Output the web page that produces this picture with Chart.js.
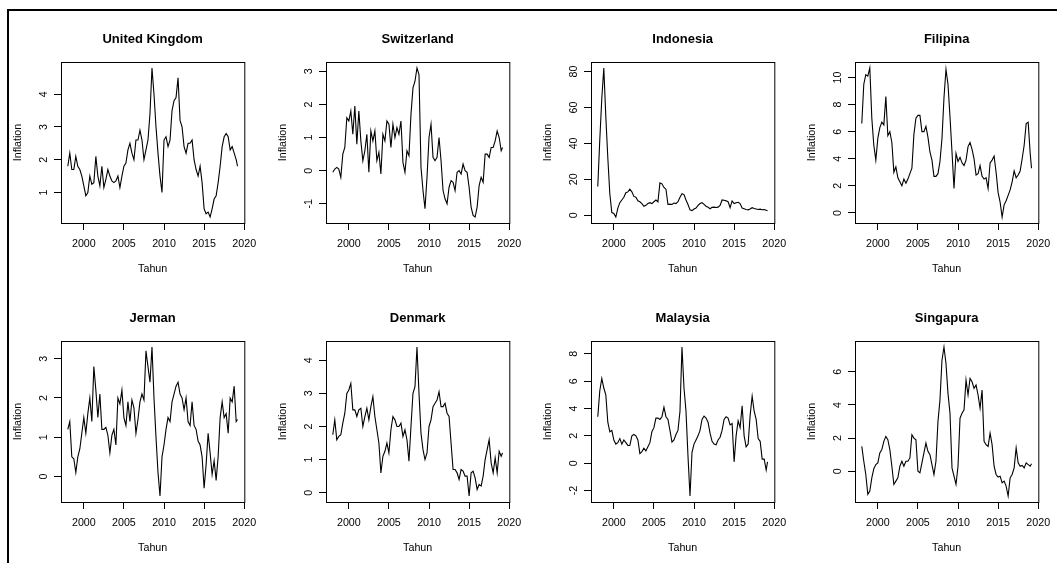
<!DOCTYPE html>
<html>
<head>
<meta charset="utf-8">
<script src="https://cdn.jsdelivr.net/npm/chart.js@4.4.1/dist/chart.umd.min.js"></script>
<style>
    body { margin: 0; background: #fff; width: 1057px; height: 563px; overflow: hidden; position: relative; }
    .frame { position: absolute; left: 7px; top: 9px; width: 1100px; height: 600px; border-left: 2px solid #000; border-top: 2px solid #000; }
    canvas { position: absolute; }
</style>
</head>
<body>
<div class="frame"></div>
<div id="panels"></div>
<script>
// kuartalan Jan 1998 .. Jan 2019, titik terakhir Maret 2019
const startYear = 1998;
const lastTime = 2019 + 2 / 12;
const years = [];
for (let k = 0; k <= 84; k++) years.push(startYear + k / 4);
years.push(lastTime);

const countries = ['United Kingdom', 'Switzerland', 'Indonesia', 'Filipina', 'Jerman', 'Denmark', 'Malaysia', 'Singapura'];

const ukInflation = [
    1.8, 2.2, 1.7, 1.7, 2.1, 1.8, 1.7, 1.5, 1.2, 0.9, 1.0, 1.5, 1.25, 1.3, 2.1, 1.5,
    1.2, 1.8, 1.15, 1.4, 1.7, 1.5, 1.35, 1.3, 1.35, 1.5, 1.15, 1.5, 1.8, 1.9, 2.3, 2.5,
    2.2, 2.0, 2.6, 2.6, 2.9, 2.6, 2.0, 2.3, 2.6, 3.4, 4.8, 4.0, 3.0, 2.2, 1.5, 1.0,
    2.6, 2.7, 2.4, 2.6, 3.5, 3.8, 3.9, 4.5, 3.2, 3.0, 2.4, 2.2, 2.5, 2.5, 2.6, 2.0,
    1.7, 1.5, 1.8, 1.3, 0.5, 0.35, 0.4, 0.25, 0.5, 0.8, 0.9, 1.3, 1.8, 2.4, 2.7, 2.8,
    2.7, 2.3, 2.4, 2.2, 2.0, 1.8
];
const swissInflation = [
    -0.05, 0.05, 0.1, 0.05, -0.2, 0.5, 0.7, 1.6, 1.5, 1.8, 1.1, 1.95, 0.8, 1.8, 0.9, 0.3,
    0.6, 1.1, -0.05, 1.2, 0.9, 1.2, 0.3, 0.55, -0.1, 1.1, 0.9, 1.5, 1.4, 0.7, 1.4, 1.0,
    1.3, 1.1, 1.5, 0.25, -0.05, 0.6, 0.45, 1.7, 2.5, 2.7, 3.1, 2.9, 0.1, -0.6, -1.15, -0.2,
    1.0, 1.4, 0.4, 0.3, 0.4, 1.0, 0.3, -0.6, -0.85, -1.0, -0.5, -0.3, -0.35, -0.6, -0.05, 0.0,
    -0.1, 0.2, 0.0, -0.05, -0.5, -1.1, -1.35, -1.4, -1.1, -0.45, -0.2, -0.35, 0.5, 0.5, 0.4, 0.7,
    0.7, 0.9, 1.2, 1.0, 0.6, 0.7
];
const indonesiaInflation = [
    16, 42, 65, 82, 55, 32, 12, 1.5, 1.0, -1, 4, 7, 8.5, 10, 12.5, 13,
    14.5, 13, 10.5, 10, 8, 7.5, 6.5, 5, 5.5, 6.5, 7, 6.5, 7.5, 8.5, 7.5, 18,
    17.5, 15.5, 14.5, 6, 6.2, 6, 6.8, 6.5, 7.5, 10, 12, 11.5, 8.5, 6, 3, 2.6,
    3.5, 4, 5.5, 6.5, 7, 6, 5, 4.5, 3.6, 4.4, 4.5, 4.3, 4.5, 5.5, 8.5, 8.3,
    8, 7.5, 4.2, 8, 6.5, 7, 7.2, 6.5, 4, 3.6, 3.2, 3, 3.5, 4.2, 3.8, 3.5,
    3.2, 3.4, 3.1, 3.2, 2.8, 2.5
];
const filipinaInflation = [
    6.6, 9.5, 10.2, 10.1, 10.7, 7.0, 5.0, 3.9, 5.5, 6.3, 6.7, 6.5, 8.6, 5.7, 6.0, 5.2,
    3.0, 3.4, 2.6, 2.3, 2.0, 2.5, 2.2, 2.5, 2.9, 3.3, 5.8, 7.0, 7.2, 7.2, 6.0, 6.0,
    6.4, 5.6, 4.5, 3.9, 2.7, 2.7, 2.9, 3.8, 5.5, 8.5, 10.6, 9.5, 7.1, 4.5, 1.8, 4.4,
    3.8, 4.1, 3.7, 3.5, 3.9, 4.9, 5.2, 4.7, 4.0, 2.8, 2.9, 3.5, 2.7, 2.5, 2.6, 1.8,
    3.7, 3.9, 4.2, 3.0, 1.5, 0.8, -0.3, 0.6, 0.9, 1.3, 1.7, 2.3, 3.1, 2.6, 2.8, 3.1,
    4.0, 5.0, 6.6, 6.7, 4.4, 3.3
];
const jermanInflation = [
    1.2, 1.4, 0.5, 0.45, 0.1, 0.5, 0.7, 1.1, 1.5, 1.1, 1.6, 2.0, 1.4, 2.8, 2.2, 1.5,
    2.1, 1.2, 1.2, 1.25, 1.05, 0.6, 1.05, 1.2, 0.8, 2.0, 1.85, 2.2, 1.5, 1.3, 1.9, 1.4,
    1.95, 1.75, 1.1, 1.45, 1.9, 2.1, 1.95, 3.2, 2.8, 2.4, 3.3, 2.0, 1.0, 0.1, -0.5, 0.5,
    0.8, 1.2, 1.5, 1.4, 1.9, 2.1, 2.3, 2.4, 2.1, 2.0, 1.7, 2.0, 1.4, 1.3, 1.9, 1.3,
    1.2, 0.9, 0.8, 0.5, -0.3, 0.3, 1.1, 0.6, 0.05, 0.4, -0.1, 0.5, 1.5, 1.9, 1.5, 1.6,
    1.1, 2.0, 1.9, 2.3, 1.4, 1.45
];
const denmarkInflation = [
    1.75, 2.2, 1.6, 1.7, 1.75, 2.1, 2.4, 3.0, 3.1, 3.3, 2.5, 2.5, 2.3, 2.5, 2.55, 2.0,
    2.3, 2.55, 2.2, 2.6, 2.9, 2.3, 1.9, 1.5, 0.6, 1.1, 1.25, 1.5, 1.2, 1.9, 2.3, 2.2,
    2.0, 2.0, 2.1, 1.7, 1.9, 1.6, 0.95, 2.0, 3.0, 3.2, 4.4, 3.0, 1.8, 1.3, 1.0, 1.2,
    2.0, 2.2, 2.6, 2.7, 2.8, 3.05, 2.6, 2.6, 2.7, 2.4, 2.3, 1.5, 0.7, 0.7, 0.6, 0.4,
    0.7, 0.65, 0.5, 0.5, -0.1, 0.6, 0.65, 0.45, 0.1, 0.25, 0.2, 0.5, 1.0, 1.3, 1.6, 0.9,
    0.6, 1.05, 0.6, 1.25, 1.1, 1.2
];
const malaysiaInflation = [
    3.4, 5.3, 6.2, 5.5, 5.0, 3.0, 2.3, 2.4, 1.7, 1.4, 1.5, 1.8, 1.4, 1.7, 1.5, 1.3,
    1.3, 2.0, 2.1, 2.0, 1.7, 0.7, 0.85, 1.1, 0.9, 1.2, 1.5, 2.3, 2.6, 3.3, 3.3, 3.2,
    3.4, 4.1, 3.4, 3.2, 2.4, 1.55, 1.7, 2.1, 2.4, 3.8, 8.5, 5.5, 3.8, 0.5, -2.4, 0.8,
    1.4, 1.7, 2.0, 2.4, 3.2, 3.45, 3.3, 3.0, 2.2, 1.6, 1.4, 1.35, 1.7, 1.9, 2.4, 3.2,
    3.4, 3.3, 2.8, 2.9, 0.1, 2.0, 3.1, 2.6, 4.2, 2.0, 1.2, 1.4, 3.5, 4.9, 3.8, 3.2,
    1.8, 1.6, 0.3, 0.3, -0.5, 0.1
];
const singapuraInflation = [
    1.5, 0.6, -0.2, -1.4, -1.2, -0.4, 0.15, 0.4, 0.5, 1.1, 1.3, 1.8, 2.1, 1.9, 1.3, 0.3,
    -0.8, -0.6, -0.4, 0.3, 0.6, 0.3, 0.6, 0.6, 0.8, 2.2, 2.0, 1.9, 0.0, -0.1, 0.5, 1.1,
    1.7, 1.2, 1.0, 0.4, -0.2, 0.6, 3.0, 4.3, 6.7, 7.5, 6.5, 4.7, 3.5, 0.2, -0.3, -0.8,
    0.3, 3.2, 3.5, 3.7, 5.5, 4.6, 5.6, 5.4, 5.0, 5.2, 4.6, 3.8, 4.9, 1.8, 1.6, 1.5,
    2.3, 1.6, 0.3, -0.2, -0.35, -0.3, -0.7, -0.6, -0.9, -1.5, -0.4, -0.2, 0.2, 1.4, 0.5, 0.3,
    0.35, 0.2, 0.5, 0.4, 0.3, 0.45
];

const seriesList = [ukInflation, swissInflation, indonesiaInflation, filipinaInflation,
    jermanInflation, denmarkInflation, malaysiaInflation, singapuraInflation];

const xTicks = [2000, 2005, 2010, 2015, 2020];
const yTickSets = [
    [1, 2, 3, 4],
    [-1, 0, 1, 2, 3],
    [0, 20, 40, 60, 80],
    [0, 2, 4, 6, 8, 10],
    [0, 1, 2, 3],
    [0, 1, 2, 3, 4],
    [-2, 0, 2, 4, 6, 8],
    [0, 2, 4, 6]
];

const fontFamily = "'Liberation Sans', Arial, Helvetica, sans-serif";
const labelSize = 10.7;
const colLeft = [0, 265, 530, 794];
const rowTop = [0, 279];
const panelW = 264;
const panelH = 281;

// R memperlebar rentang data 4% di tiap sisi
function padRange(lo, hi) {
    const pad = (hi - lo) * 0.04;
    return [lo - pad, hi + pad];
}

const measureCtx = document.createElement('canvas').getContext('2d');
measureCtx.font = labelSize + 'px ' + fontFamily;

const boxPlugin = {
    id: 'plotBox',
    afterDraw(chart) {
        const { ctx, chartArea } = chart;
        ctx.save();
        ctx.strokeStyle = '#000';
        ctx.lineWidth = 1;
        ctx.strokeRect(chartArea.left + 0.5, chartArea.top + 0.5,
            chartArea.right - chartArea.left, chartArea.bottom - chartArea.top);
        ctx.restore();
    }
};

const [xMin, xMax] = padRange(startYear, lastTime);

countries.forEach((name, i) => {
    const values = seriesList[i];
    const yTicks = yTickSets[i];
    const [yMin, yMax] = padRange(Math.min(...values), Math.max(...values));

    const canvas = document.createElement('canvas');
    canvas.width = panelW;
    canvas.height = panelH;
    canvas.style.left = colLeft[i % 4] + 'px';
    canvas.style.top = rowTop[Math.floor(i / 4)] + 'px';
    document.getElementById('panels').appendChild(canvas);

    const widest = Math.max(...yTicks.map(v => measureCtx.measureText(String(v)).width));
    const tickFont = { family: fontFamily, size: labelSize };

    new Chart(canvas.getContext('2d'), {
        type: 'line',
        data: {
            datasets: [{
                data: years.map((t, k) => ({ x: t, y: values[k] })),
                borderColor: '#000',
                borderWidth: 1.1,
                pointRadius: 0,
                tension: 0,
                fill: false,
            }],
        },
        options: {
            responsive: false,
            animation: false,
            events: [],
            layout: { padding: { left: 0, right: 17, top: 0, bottom: 0 } },
            plugins: {
                legend: { display: false },
                tooltip: { enabled: false },
                title: {
                    display: true,
                    text: name,
                    fullSize: false,
                    color: '#000',
                    font: { family: fontFamily, size: 13, weight: 'bold' },
                    padding: { top: 31.2, bottom: 15.2 },
                },
            },
            scales: {
                x: {
                    type: 'linear',
                    min: xMin,
                    max: xMax,
                    afterBuildTicks: scale => { scale.ticks = xTicks.map(v => ({ value: v })); },
                    afterFit: scale => { scale.height = 58; },
                    grid: { drawOnChartArea: false, drawTicks: true, tickLength: 7, color: '#000' },
                    border: { display: false },
                    ticks: { color: '#000', font: tickFont, padding: 7.9, maxRotation: 0, autoSkip: false, callback: v => String(v) },
                    title: { display: true, text: 'Tahun', color: '#000', font: tickFont, padding: { top: 0, bottom: 5.1 } },
                },
                y: {
                    type: 'linear',
                    min: yMin,
                    max: yMax,
                    afterBuildTicks: scale => { scale.ticks = yTicks.map(v => ({ value: v })); },
                    afterFit: scale => { scale.width = 61; },
                    grid: { drawOnChartArea: false, drawTicks: true, tickLength: 7, color: '#000' },
                    border: { display: false },
                    ticks: {
                        color: '#000', font: tickFont, minRotation: 90, maxRotation: 90,
                        crossAlign: 'center', padding: 9.5 - widest / 2, autoSkip: false,
                        callback: v => String(v),
                    },
                    title: { display: true, text: 'Inflation', color: '#000', font: tickFont, padding: { top: 11.9, bottom: 0 } },
                },
            },
        },
        plugins: [boxPlugin],
    });
});
</script>
</body>
</html>
